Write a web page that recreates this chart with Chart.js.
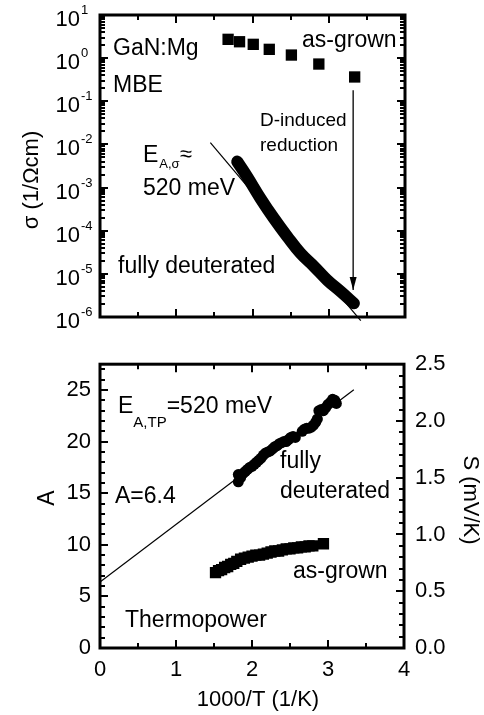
<!DOCTYPE html>
<html><head><meta charset="utf-8">
<script src="https://cdn.jsdelivr.net/npm/chart.js@4.4.1/dist/chart.umd.min.js"></script>
<style>
html,body{margin:0;padding:0;background:#fff;width:484px;height:715px;overflow:hidden}
canvas{position:absolute;left:0}
#c1{top:0}
#c2{top:340px}
</style></head><body>
<canvas id="c1" width="484" height="340"></canvas>
<canvas id="c2" width="484" height="375"></canvas>
<script>
const FONT = '"Liberation Sans", Arial, Helvetica, sans-serif';

// ---------- shared x axis ----------
const xMin = 0, xMax = 4;
const xMajorTicks = [0, 1, 2, 3, 4];
const xMinorTicks = [0.5, 1.5, 2.5, 3.5];

// ---------- top panel: conductivity ----------
const sigmaDecades = [-6, -5, -4, -3, -2, -1, 0, 1];
const sigAsGrownX = [1.68, 1.83, 2.01, 2.22, 2.51, 2.87, 3.34];
const sigAsGrownY = [2.73, 2.40, 2.09, 1.60, 1.18, 0.73, 0.366];
const sigDeutX = [1.80, 1.93, 2.105, 2.28, 2.456, 2.63, 2.81, 2.98, 3.16, 3.33];
const sigDeutY = [4.0e-3, 1.79e-3, 5.6e-4, 1.94e-4, 7.3e-5, 2.99e-5, 1.47e-5, 7.2e-6, 3.85e-6, 2.07e-6];
const sigFitX = [1.447, 3.42];
const sigFitY = [1.1e-2, 8.2e-7];
const arrowX = [3.32, 3.32];
const arrowY = [0.18, 4.2e-6];

// ---------- bottom panel: thermopower ----------
const aMajorTicks = [0, 5, 10, 15, 20, 25];
const sMajorTicks = [0, 0.5, 1.0, 1.5, 2.0, 2.5];
const tpDeutX = [1.82,1.82,1.85,1.88,1.91,1.94,1.97,2.00,2.03,2.06,2.09,2.12,2.15,2.18,2.21,2.24,2.27,2.30,2.33,2.36,2.39,2.42,2.45,2.48,2.51,2.54,2.57,2.66,2.69,2.72,2.75,2.78,2.81,2.84,2.86,2.88,2.91,2.94,2.97,3.00,3.03,3.06,3.09,3.11];
const tpDeutA = [16.1,16.8,16.5,16.9,17.1,17.3,17.5,17.6,17.8,18.0,18.2,18.4,18.7,18.9,19.0,19.1,19.3,19.5,19.6,19.8,19.9,20.0,20.0,20.2,20.4,20.5,20.4,21.0,21.2,21.3,21.3,21.4,21.6,21.9,22.2,23.0,23.1,23.0,23.3,23.6,23.8,24.1,24.0,23.7];
const tpAgX = [1.52,1.56,1.60,1.64,1.68,1.72,1.76,1.80,1.85,1.90,1.95,2.00,2.05,2.10,2.15,2.20,2.25,2.30,2.35,2.40,2.45,2.50,2.55,2.60,2.65,2.70,2.75,2.80,2.94];
const tpAgA = [7.3,7.5,7.6,7.8,7.9,8.1,8.2,8.4,8.6,8.7,8.8,8.9,9.0,9.0,9.1,9.2,9.3,9.4,9.4,9.5,9.6,9.6,9.7,9.7,9.8,9.8,9.9,9.9,10.1];
const tpFitX = [0, 3.34];
const tpFitA = [6.4, 25.03];

function pts(xs, ys) { return xs.map((x, i) => ({ x: x, y: ys[i] })); }
function range(a, b, s) { const r = []; for (let v = a; v <= b + 1e-9; v += s) r.push(+v.toFixed(4)); return r; }

function makeFrame(tickSets, extra) {
  return {
    id: 'frame',
    afterDatasetsDraw(chart) {
      const ctx = chart.ctx, a = chart.chartArea;
      ctx.save();
      ctx.strokeStyle = '#000';
      ctx.lineWidth = 2;
      tickSets.forEach(t => {
        const sc = chart.scales[t.scale];
        t.values.forEach(v => {
          const p = Math.round(sc.getPixelForValue(v));
          ctx.beginPath();
          t.sides.forEach(side => {
            if (side === 'bottom') { ctx.moveTo(p, a.bottom); ctx.lineTo(p, a.bottom - t.len); }
            if (side === 'top') { ctx.moveTo(p, a.top); ctx.lineTo(p, a.top + t.len); }
            if (side === 'left') { ctx.moveTo(a.left, p); ctx.lineTo(a.left + t.len, p); }
            if (side === 'right') { ctx.moveTo(a.right, p); ctx.lineTo(a.right - t.len, p); }
          });
          ctx.stroke();
        });
      });
      ctx.lineWidth = 3;
      ctx.strokeRect(a.left, a.top, a.right - a.left, a.bottom - a.top);
      ctx.fillStyle = '#000';
      extra(chart, ctx);
      ctx.restore();
    }
  };
}

function txt(ctx, s, x, y, size, align) {
  ctx.font = size + 'px ' + FONT;
  ctx.textAlign = align || 'left';
  ctx.textBaseline = 'alphabetic';
  ctx.fillText(s, x, y);
  return x + ctx.measureText(s).width;
}

Chart.defaults.font.family = FONT;
Chart.defaults.color = '#000';

// ---------- top chart ----------
const decadeVals = sigmaDecades.map(e => Math.pow(10, e));
const minorLog = [];
sigmaDecades.slice(0, -1).forEach(e => { for (let m = 2; m <= 9; m++) minorLog.push(m * Math.pow(10, e)); });

new Chart(document.getElementById('c1'), {
  type: 'scatter',
  data: {
    datasets: [
      { data: pts(sigFitX, sigFitY), showLine: true, borderColor: '#000', borderWidth: 1.2, pointRadius: 0, clip: 6 },
      { data: pts(sigDeutX, sigDeutY), showLine: true, borderColor: '#000', borderWidth: 12, borderCapStyle: 'round', borderJoinStyle: 'round', tension: 0.4, pointRadius: 0 },
      { data: pts(sigAsGrownX, sigAsGrownY), pointStyle: 'rect', pointRadius: 8, backgroundColor: '#000', borderColor: '#000', borderWidth: 0 },
      { data: pts(arrowX, arrowY), showLine: true, borderColor: '#000', borderWidth: 1.3, pointRadius: 0 }
    ]
  },
  options: {
    responsive: false, animation: false, devicePixelRatio: 1,
    layout: { padding: { top: 15, right: 79, left: 0, bottom: 0 } },
    plugins: { legend: { display: false }, tooltip: { enabled: false } },
    scales: {
      x: { type: 'linear', min: xMin, max: xMax, grid: { display: false, drawTicks: false }, border: { display: false },
           ticks: { display: false }, afterFit(s) { s.height = 23; } },
      y: { type: 'logarithmic', min: 1e-6, max: 10, grid: { display: false, drawTicks: false }, border: { display: false },
           ticks: { display: false },
           afterBuildTicks(s) { s.ticks = decadeVals.map(v => ({ value: v })); },
           afterFit(s) { s.width = 100; } }
    }
  },
  plugins: [makeFrame([
    { scale: 'x', values: xMajorTicks, len: 8, sides: ['bottom', 'top'] },
    { scale: 'x', values: xMinorTicks, len: 5, sides: ['bottom', 'top'] },
    { scale: 'y', values: decadeVals, len: 8, sides: ['left', 'right'] },
    { scale: 'y', values: minorLog, len: 5, sides: ['left', 'right'] }
  ], (chart, ctx) => {
    const ys = chart.scales.y;
    // decade labels
    sigmaDecades.forEach(e => {
      const p = ys.getPixelForValue(Math.pow(10, e));
      txt(ctx, '10', 80, p + 11, 22, 'right');
      txt(ctx, String(e).replace('-', '-'), 81, p - 1, 13, 'left');
    });
    // arrow head
    const meta = chart.getDatasetMeta(3);
    const tip = meta.data[1];
    ctx.beginPath();
    ctx.moveTo(tip.x, tip.y);
    ctx.lineTo(tip.x - 3.5, tip.y - 13);
    ctx.lineTo(tip.x + 3.5, tip.y - 13);
    ctx.closePath();
    ctx.fill();
    // axis title
    ctx.save();
    ctx.translate(32, 180);
    ctx.rotate(-Math.PI / 2);
    ctx.font = '22px ' + FONT; ctx.textAlign = 'center'; ctx.textBaseline = 'middle';
    ctx.fillText('\u03C3 (1/\u03A9cm)', 0, 0);
    ctx.restore();
    // annotations
    txt(ctx, 'GaN:Mg', 113, 55, 23);
    txt(ctx, 'MBE', 113, 92, 23);
    txt(ctx, 'as-grown', 302, 47, 23);
    txt(ctx, 'D-induced', 260, 126, 19);
    txt(ctx, 'reduction', 260, 151, 19);
    let x = txt(ctx, 'E', 143, 162, 23);
    x = txt(ctx, 'A,\u03C3', x + 1, 168, 13);
    txt(ctx, '\u2248', x, 161, 22);
    txt(ctx, '520 meV', 143, 195, 23);
    txt(ctx, 'fully deuterated', 118, 273, 23);
  })]
});

// ---------- bottom chart ----------
new Chart(document.getElementById('c2'), {
  type: 'scatter',
  data: {
    datasets: [
      { data: pts(tpFitX, tpFitA), showLine: true, borderColor: '#000', borderWidth: 1.2, pointRadius: 0, yAxisID: 'y' },
      { data: pts(tpDeutX, tpDeutA), pointStyle: 'circle', pointRadius: 5.5, backgroundColor: '#000', borderColor: '#000', borderWidth: 0, yAxisID: 'y' },
      { data: pts(tpAgX, tpAgA), pointStyle: 'rect', pointRadius: 8, backgroundColor: '#000', borderColor: '#000', borderWidth: 0, yAxisID: 'y' }
    ]
  },
  options: {
    responsive: false, animation: false, devicePixelRatio: 1,
    layout: { padding: { top: 10, right: 0, left: 0, bottom: 0 } },
    plugins: { legend: { display: false }, tooltip: { enabled: false } },
    scales: {
      x: { type: 'linear', min: xMin, max: xMax, grid: { display: false, drawTicks: false }, border: { display: false },
           ticks: { stepSize: 1, padding: 9, font: { size: 22 }, color: '#000', includeBounds: false },
           afterFit(s) { s.height = 67; } },
      y: { type: 'linear', position: 'left', min: 0, max: 27.5, grid: { display: false, drawTicks: false }, border: { display: false },
           ticks: { stepSize: 5, padding: 9, font: { size: 22 }, color: '#000', includeBounds: false },
           afterFit(s) { s.width = 100; } },
      yS: { type: 'linear', position: 'right', axis: 'y', min: 0, max: 2.5, grid: { display: false, drawTicks: false }, border: { display: false },
            ticks: { stepSize: 0.5, padding: 11, font: { size: 22 }, color: '#000', callback: v => v.toFixed(1) },
            afterFit(s) { s.width = 80; } }
    }
  },
  plugins: [makeFrame([
    { scale: 'x', values: xMajorTicks, len: 8, sides: ['bottom', 'top'] },
    { scale: 'x', values: xMinorTicks, len: 5, sides: ['bottom', 'top'] },
    { scale: 'y', values: aMajorTicks, len: 8, sides: ['left'] },
    { scale: 'y', values: range(0, 27, 1), len: 5, sides: ['left'] },
    { scale: 'yS', values: sMajorTicks, len: 8, sides: ['right'] },
    { scale: 'yS', values: range(0, 2.5, 0.1), len: 5, sides: ['right'] }
  ], (chart, ctx) => {
    ctx.save();
    ctx.translate(48, 158);
    ctx.rotate(-Math.PI / 2);
    ctx.font = '23px ' + FONT; ctx.textAlign = 'center'; ctx.textBaseline = 'middle';
    ctx.fillText('A', 0, 0);
    ctx.restore();
    ctx.save();
    ctx.translate(470, 160);
    ctx.rotate(Math.PI / 2);
    ctx.font = '22px ' + FONT; ctx.textAlign = 'center'; ctx.textBaseline = 'middle';
    ctx.fillText('S (mV/K)', 0, 0);
    ctx.restore();
    txt(ctx, '1000/T (1/K)', 258, 366, 22, 'center');
    let x = txt(ctx, 'E', 118, 73, 23);
    x = txt(ctx, 'A,TP', x, 87, 15);
    txt(ctx, '=520 meV', x, 73, 23);
    txt(ctx, 'A=6.4', 115, 163, 23);
    txt(ctx, 'fully', 280, 128, 23);
    txt(ctx, 'deuterated', 280, 158, 23);
    txt(ctx, 'as-grown', 293, 238, 23);
    txt(ctx, 'Thermopower', 125, 287, 23);
  })]
});
</script>
</body></html>
